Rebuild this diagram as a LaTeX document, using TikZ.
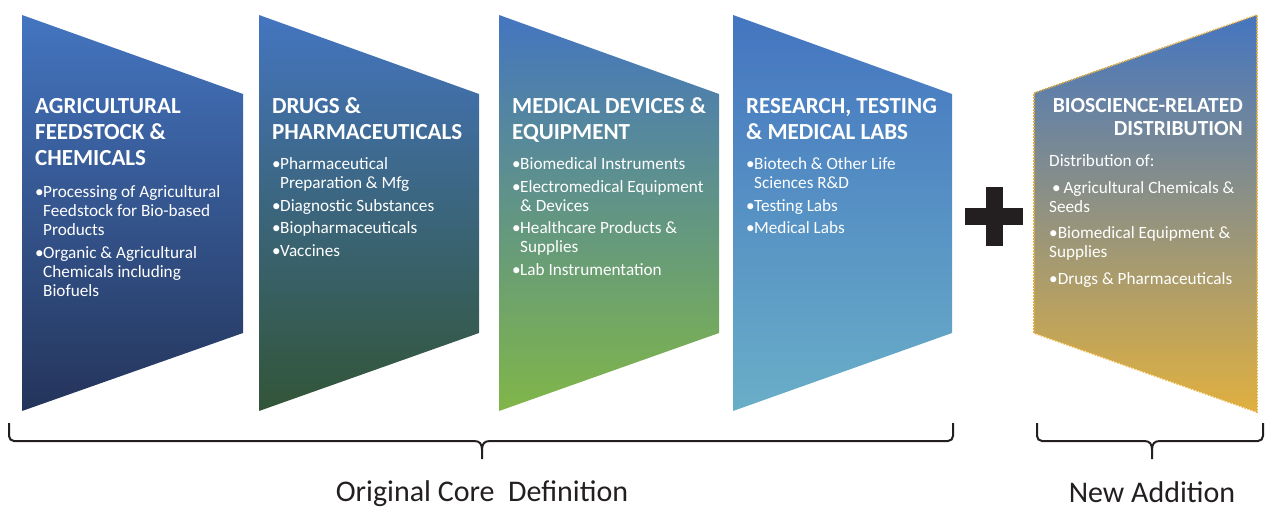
\documentclass[tikz,border=0pt]{standalone}
\usepackage{fontspec}
\setmainfont{Carlito}
\definecolor{topblue}{RGB}{68,117,192}
\definecolor{botnavy}{RGB}{36,52,90}
\definecolor{botgreen}{RGB}{50,85,55}
\definecolor{botlime}{RGB}{128,182,72}
\definecolor{botsky}{RGB}{105,174,200}
\definecolor{botgold}{RGB}{224,176,64}
\definecolor{goldline}{RGB}{226,172,58}
\definecolor{ink}{RGB}{35,31,32}
\newcommand{\pbul}{\makebox[8pt][l]{•}}
\newcommand{\pind}{\hspace*{8pt}}
\newcommand{\lcol}[1]{\begin{tabular}[t]{@{}l@{}}#1\end{tabular}}
\newcommand{\rcol}[1]{\begin{tabular}[t]{@{}r@{}}#1\end{tabular}}
\tikzset{
  ptitle/.style={anchor=base west, inner sep=0pt, text=white,
    font=\bfseries\fontsize{23}{26}\selectfont},
  pbody/.style={anchor=base west, inner sep=0pt, text=white,
    font=\fontsize{17.2}{19}\selectfont},
  bracestyle/.style={draw=ink, line width=2pt, rounded corners=5pt},
  bottomlabel/.style={anchor=base, inner sep=0pt, text=ink, font=\fontsize{30}{34}\selectfont}
}
\begin{document}
\begin{tikzpicture}[x=1pt,y=-1pt]
\useasboundingbox (0,0) rectangle (1265,510);
% panels
\shade[top color=topblue, bottom color=botnavy] (22,15) -- (243,94) -- (243,333) -- (22,411) -- cycle;
\shade[top color=topblue, bottom color=botgreen] (259,15) -- (479,94) -- (479,333) -- (259,411) -- cycle;
\shade[top color=topblue, bottom color=botlime] (499,15) -- (719,94) -- (719,333) -- (499,411) -- cycle;
\shade[top color=topblue, bottom color=botsky] (733,15) -- (952,94) -- (952,333) -- (733,411) -- cycle;
\shade[top color=topblue, bottom color=botgold] (1034,93) -- (1257,15) -- (1257,412) -- (1034,333) -- cycle;
\draw[goldline, line width=1.6pt, dash pattern=on 1.6pt off 1.4pt] (1034,93) -- (1257,15) -- (1257,412) -- (1034,333) -- cycle;
% texts panel 1
\node[ptitle] (t1) at (35,114) {\lcol{AGRICULTURAL\\FEEDSTOCK \&\\CHEMICALS}};
\node[pbody] (b1) at (35,198) {\lcol{\pbul Processing of Agricultural\\\pind Feedstock for Bio-based\\\pind Products\\[3.5pt]\pbul Organic \& Agricultural\\\pind Chemicals including\\\pind Biofuels}};
% panel 2
\node[ptitle] (t2) at (272,114) {\lcol{DRUGS \&\\PHARMACEUTICALS}};
\node[pbody] (b2) at (272,170) {\lcol{\pbul Pharmaceutical\\\pind Preparation \& Mfg\\[3.5pt]\pbul Diagnostic Substances\\[3.5pt]\pbul Biopharmaceuticals\\[3.5pt]\pbul Vaccines}};
% panel 3
\node[ptitle] (t3) at (512,114) {\lcol{MEDICAL DEVICES \&\\EQUIPMENT}};
\node[pbody] (b3) at (512,170) {\lcol{\pbul Biomedical Instruments\\[3.5pt]\pbul Electromedical Equipment\\\pind\& Devices\\[3.5pt]\pbul Healthcare Products \&\\\pind Supplies\\[3.5pt]\pbul Lab Instrumentation}};
% panel 4
\node[ptitle] (t4) at (746,114) {\lcol{RESEARCH, TESTING\\\& MEDICAL LABS}};
\node[pbody] (b4) at (746,170) {\lcol{\pbul Biotech \& Other Life\\\pind Sciences R\&D\\[3.5pt]\pbul Testing Labs\\[3.5pt]\pbul Medical Labs}};
% panel 5
\node[ptitle, anchor=base east, font=\bfseries\fontsize{21.5}{22.5}\selectfont] (t5) at (1243,113) {\rcol{BIOSCIENCE-RELATED\\DISTRIBUTION}};
\node[pbody] (b5) at (1049,167) {\lcol{Distribution of:\\[7.5pt]\,•\,Agricultural Chemicals \&\\Seeds\\[7.5pt]•Biomedical Equipment \&\\Supplies\\[7.5pt]•Drugs \& Pharmaceuticals}};
% plus
\fill[ink] (986,187) rectangle (1003,246);
\fill[ink] (965,208) rectangle (1023,225);
% braces
\coordinate (tipA) at (482,459);
\coordinate (tipB) at (1152,459);
\draw[bracestyle] (9,423) -- (9,441) -- (474,441);
\draw[ink, line width=2pt] (474,441) .. controls (480,441) and (482,444) .. (482,450) -- (tipA);
\draw[bracestyle] (953,423) -- (953,441) -- (490,441);
\draw[ink, line width=2pt] (490,441) .. controls (484,441) and (482,444) .. (482,450);
\draw[bracestyle] (1037,423) -- (1037,441) -- (1144,441);
\draw[ink, line width=2pt] (1144,441) .. controls (1150,441) and (1152,444) .. (1152,450) -- (tipB);
\draw[bracestyle] (1263,423) -- (1263,441) -- (1160,441);
\draw[ink, line width=2pt] (1160,441) .. controls (1154,441) and (1152,444) .. (1152,450);
% labels
\node[bottomlabel] (l1) at (482,501.5) {Original Core~~Definition};
\node[bottomlabel] (l2) at (1152,502.5) {New Addition};
\end{tikzpicture}
\end{document}
